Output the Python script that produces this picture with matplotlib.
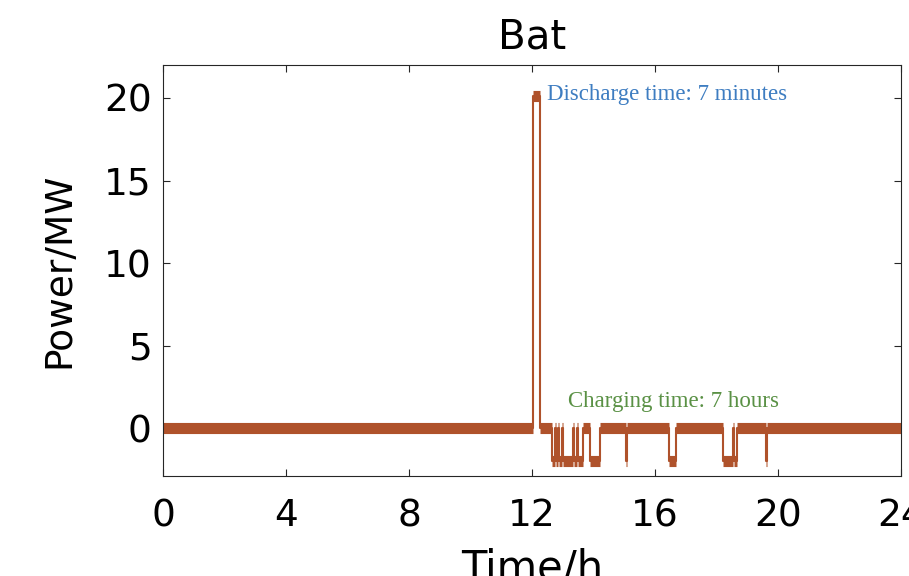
import matplotlib
matplotlib.use("Agg")
import matplotlib.pyplot as plt
import numpy as np

# battery power schedule: each segment starts at seg_start (h) and holds seg_power (MW)
seg_start = [0.0, 12.02, 12.25, 12.64, 12.75, 12.78, 12.86, 12.89, 12.97, 13.00,
             13.34, 13.37, 13.45, 13.48, 13.67, 13.89, 14.21, 15.07, 15.10,
             16.46, 16.68, 18.21, 18.53, 18.56, 18.67, 19.62, 19.65]
seg_power = [0, 20.1, 0, -2, 0, -2, 0, -2, 0, -2,
             0, -2, 0, -2, 0, -2, 0, -2, 0,
             -2, 0, -2, 0, -2, 0, -2, 0]
t_end = 24.0

x_ticks = [0, 4, 8, 12, 16, 20, 24]
y_ticks = [0, 5, 10, 15, 20]

line_color = "#AF522B"

fig = plt.figure(figsize=(9.09, 5.76), dpi=100)
ax = fig.add_axes([0.1793, 0.1736, 0.8119, 0.7136])

seg_end = seg_start[1:] + [t_end]
ax.step(seg_start + [t_end], seg_power + [seg_power[-1]], where="post",
        color=line_color, lw=1.5)
ax.hlines(seg_power, seg_start, seg_end, colors=line_color, lw=8, capstyle="butt")

ax.text(12.49, 20.24, "Discharge time: 7 minutes", color="#3E7DC1",
        family="Liberation Serif", fontsize=16.5, va="center", ha="left")
ax.text(13.17, 1.64, "Charging time: 7 hours", color="#5A9145",
        family="Liberation Serif", fontsize=16.5, va="center", ha="left")

ax.set_xlim(0, 24)
ax.set_ylim(-2.9, 22)
ax.set_xticks(x_ticks)
ax.set_yticks(y_ticks)
ax.tick_params(direction="in", length=5, width=0.8, top=True, right=True,
               labelsize=27, color="#262626")
ax.tick_params(axis="x", pad=16)
ax.tick_params(axis="y", pad=8)
for s in ax.spines.values():
    s.set_linewidth(0.8)
    s.set_color("#262626")

ax.set_title("Bat", fontsize=29, pad=12)
ax.set_xlabel("Time/h", fontsize=30, labelpad=10)
ax.set_ylabel("Power/MW", fontsize=27, labelpad=19)

fig.savefig("out.png", dpi=100)
